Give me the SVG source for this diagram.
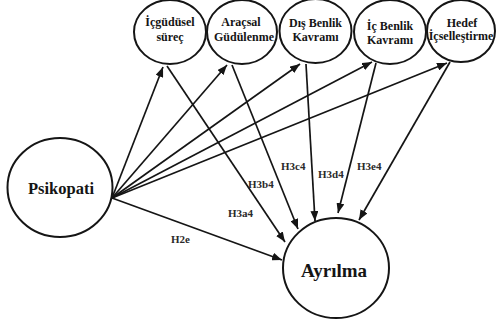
<svg xmlns="http://www.w3.org/2000/svg" width="496" height="325" viewBox="0 0 496 325">
  <style>
    .node { fill: #ffffff; stroke: #151515; stroke-width: 2; }
    .lbl { font-family: 'Liberation Serif', 'DejaVu Serif', serif; font-weight: 700; fill: #151515; text-anchor: middle; }
    .small { font-size: 12px; }
    .edge { stroke: #151515; stroke-width: 1.7; fill: none; marker-end: url(#arrow); }
    .hyp { font-family: 'Liberation Serif', 'DejaVu Serif', serif; font-weight: 700; font-size: 11px; fill: #2a2a2a; }
  </style>
  <defs>
    <marker id="arrow" markerUnits="userSpaceOnUse" markerWidth="10" markerHeight="8" refX="10" refY="4" orient="auto">
      <path d="M0,0 L10,4 L0,8 z" fill="#151515"/>
    </marker>
  </defs>
  <rect width="496" height="325" fill="#ffffff"/>

  <!-- connectors -->
  <g id="connectors">
    <line class="edge" x1="112" y1="198" x2="163" y2="67"/>
    <line class="edge" x1="112" y1="198" x2="227" y2="65"/>
    <line class="edge" x1="112" y1="198" x2="300" y2="64"/>
    <line class="edge" x1="112" y1="198" x2="372" y2="62"/>
    <line class="edge" x1="112" y1="198" x2="447" y2="63"/>
    <line class="edge" x1="112" y1="198" x2="282" y2="260"/>
    <line class="edge" x1="167" y1="66" x2="285" y2="242"/>
    <line class="edge" x1="232" y1="65" x2="298" y2="229"/>
    <line class="edge" x1="306" y1="64" x2="315" y2="221"/>
    <line class="edge" x1="376" y1="63" x2="338" y2="213"/>
    <line class="edge" x1="450" y1="62" x2="359" y2="220"/>
    <text class="hyp" x="171" y="243">H2e</text>
    <text class="hyp" x="228" y="217">H3a4</text>
    <text class="hyp" x="248" y="188">H3b4</text>
    <text class="hyp" x="281" y="170">H3c4</text>
    <text class="hyp" x="318" y="178">H3d4</text>
    <text class="hyp" x="357" y="170">H3e4</text>
  </g>

  <g id="icgudusel">
    <ellipse class="node" cx="170" cy="32" rx="36" ry="32"/>
    <text class="lbl small" x="170" y="26">İçgüdüsel</text>
    <text class="lbl small" x="170" y="41">süreç</text>
  </g>
  <g id="aracsal">
    <ellipse class="node" cx="242" cy="32" rx="35" ry="32"/>
    <text class="lbl small" x="241" y="26">Araçsal</text>
    <text class="lbl small" x="244" y="41">Güdülenme</text>
  </g>
  <g id="dis-benlik">
    <ellipse class="node" cx="315.5" cy="31" rx="36" ry="32"/>
    <text class="lbl small" x="315.5" y="27">Dış Benlik</text>
    <text class="lbl small" x="315.5" y="41">Kavramı</text>
  </g>
  <g id="ic-benlik">
    <ellipse class="node" cx="390" cy="32" rx="36" ry="32"/>
    <text class="lbl small" x="390" y="30">İç Benlik</text>
    <text class="lbl small" x="390" y="44">Kavramı</text>
  </g>
  <g id="hedef">
    <ellipse class="node" cx="461" cy="31" rx="34" ry="31"/>
    <text class="lbl small" x="462" y="27">Hedef</text>
    <text class="lbl small" x="461" y="40">İçselleştirme</text>
  </g>
  <g id="psikopati">
    <ellipse class="node" cx="60" cy="187.5" rx="52.5" ry="49.5"/>
    <text class="lbl" x="61" y="194" font-size="16.5">Psikopati</text>
  </g>
  <g id="ayrilma">
    <ellipse class="node" cx="336" cy="268" rx="53" ry="50"/>
    <text class="lbl" x="334" y="277" font-size="19">Ayrılma</text>
  </g>
</svg>
